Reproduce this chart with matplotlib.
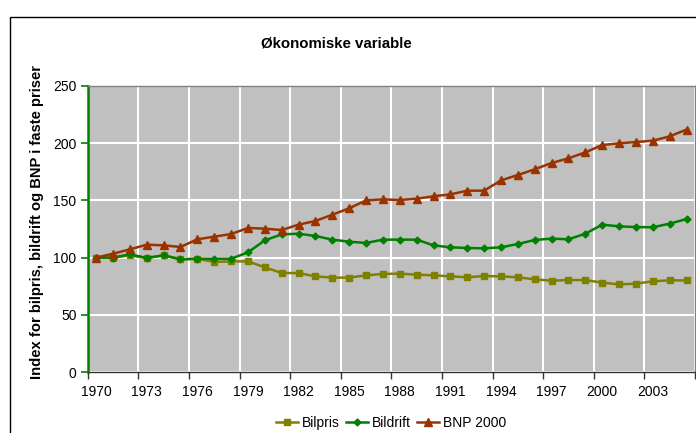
import matplotlib
matplotlib.use("Agg")
import matplotlib.pyplot as plt
from matplotlib.patches import Rectangle
from matplotlib.ticker import FixedLocator, NullFormatter

plt.rcParams['font.family'] = ['Liberation Sans', 'DejaVu Sans']

years = list(range(1970, 2006))
bilpris = [100, 100, 102, 99.5, 102, 98.5, 99, 96.2, 96.7, 96.7, 91.5, 86.5,
           86.5, 83.6, 82.5, 82.5, 84.5, 85.7, 86, 85.1, 84.5, 83.6, 82.8, 83.9,
           83.6, 82.8, 81, 79.8, 80.4, 80.4, 78.1, 76.6, 77.2, 79.3, 80.1, 80.1]
bildrift = [100, 100, 102.9, 99.7, 102, 98.5, 99, 99, 99, 104.6, 115.1, 120.3,
            120.9, 118.9, 115.7, 113.9, 112.8, 115.7, 115.7, 115.7, 110.7, 109,
            108.4, 108.1, 109, 111.9, 115.4, 116.6, 116, 120.9, 128.8, 127.3,
            126.7, 126.5, 129.7, 133.7]
bnp = [100, 103.4, 107.2, 111.3, 110.7, 109.3, 116, 118.3, 120.6, 125.9, 125.3,
       124.1, 128.8, 132, 137.5, 143.1, 150, 150.9, 150.3, 151.5, 153.6, 155.3,
       158.5, 158.5, 167.5, 172.2, 177.2, 182.7, 186.8, 192, 198.4, 199.9, 201,
       202.2, 206, 211.9]
yticks = [0, 50, 100, 150, 200, 250]
title = "Økonomiske variable"
ylabel = "Index for bilpris, bildrift og BNP i faste priser"

fig = plt.figure(figsize=(6.96, 4.33), dpi=100)
# chart frame
fig.patches.append(Rectangle((10/696, -0.1), 1.2, (433-17)/433 + 0.1,
                             transform=fig.transFigure, fill=False,
                             edgecolor='black', linewidth=1.0))

ax = fig.add_axes([87.7/696, 61/433, (695-87.7)/696, 286/433])
ax.set_facecolor('#C0C0C0')

x = list(range(len(years)))
ax.plot(x, bilpris, color='#808000', marker='s', markersize=5, linewidth=1.8,
        label='Bilpris', zorder=3)
ax.plot(x, bildrift, color='#008000', marker='D', markersize=3.5, linewidth=1.8,
        label='Bildrift', zorder=4)
ax.plot(x, bnp, color='#993300', marker='^', markersize=5.5, linewidth=1.8,
        label='BNP 2000', zorder=5)

ax.set_xlim(-0.5, len(years) - 0.5)
ax.set_ylim(0, 250)

major = [i - 0.5 for i in range(0, len(years) + 1, 3)]
ax.xaxis.set_major_locator(FixedLocator(major))
ax.xaxis.set_major_formatter(NullFormatter())
lab_pos = list(range(0, len(years), 3))
ax.xaxis.set_minor_locator(FixedLocator(lab_pos))
ax.set_xticklabels([str(years[i]) for i in lab_pos], minor=True)
ax.tick_params(axis='x', which='minor', length=0, pad=9, labelsize=10)
ax.tick_params(axis='x', which='major', direction='out', length=5,
               color='#333333', width=1)

ax.set_yticks(yticks)
ax.tick_params(axis='y', direction='out', length=5, color='#008000', width=1.2,
               labelsize=10, pad=3)

ax.grid(True, which='major', color='white', linewidth=1.5)
ax.set_axisbelow(True)

for s in ['top', 'right']:
    ax.spines[s].set_color('#808080')
    ax.spines[s].set_linewidth(1)
ax.spines['left'].set_color('#008000')
ax.spines['left'].set_linewidth(1.8)
ax.spines['bottom'].set_color('#333333')
ax.spines['bottom'].set_linewidth(1)

fig.text(336/696, 1 - 43/433, title, ha='center', va='center',
         fontsize=10.8, fontweight='bold')
fig.text(37/696, 1 - 222/433, ylabel, rotation=90, ha='center', va='center',
         fontsize=10.6, fontweight='bold')

leg = fig.legend(loc='center', bbox_to_anchor=(391/696, 1 - 423/433), ncol=3,
                 frameon=False, fontsize=10, handlelength=1.6,
                 handletextpad=0.3, columnspacing=0.4, borderaxespad=0)

fig.savefig('out.png', dpi=100)
